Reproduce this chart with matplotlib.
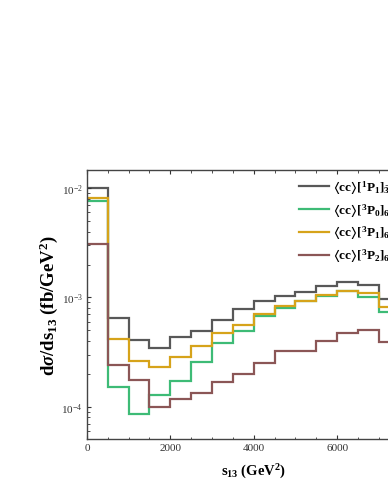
import numpy as np
import matplotlib
matplotlib.use("Agg")
import matplotlib.pyplot as plt
from matplotlib.ticker import LogLocator, MultipleLocator, FixedLocator

plt.rcParams['font.family'] = ['Liberation Serif', 'DejaVu Serif']
plt.rcParams['mathtext.fontset'] = 'custom'
plt.rcParams['mathtext.rm'] = 'Liberation Serif'
plt.rcParams['mathtext.it'] = 'Liberation Serif:italic'
plt.rcParams['mathtext.bf'] = 'Liberation Serif:bold'
plt.rcParams['mathtext.bfit'] = 'Liberation Serif:italic:bold'
plt.rcParams['mathtext.fallback'] = 'stix'

# bin edges in s13 (GeV^2), 500 wide
edges = np.arange(0, 7501, 500)

# d sigma / d s13 (fb/GeV^2)
p1_3bar = [1.0e-2, 6.5e-4, 4.1e-4, 3.46e-4, 4.33e-4, 4.98e-4, 6.23e-4, 7.85e-4,
           9.35e-4, 1.04e-3, 1.13e-3, 1.26e-3, 1.38e-3, 1.30e-3, 9.7e-4]
p0_6 = [7.7e-3, 1.51e-4, 8.6e-5, 1.29e-4, 1.72e-4, 2.56e-4, 3.84e-4, 4.98e-4,
        6.83e-4, 7.96e-4, 9.35e-4, 1.04e-3, 1.14e-3, 1.02e-3, 7.3e-4]
p1_6 = [8.2e-3, 4.18e-4, 2.65e-4, 2.33e-4, 2.88e-4, 3.58e-4, 4.71e-4, 5.65e-4,
        7.07e-4, 8.41e-4, 9.35e-4, 1.05e-3, 1.15e-3, 1.10e-3, 8.24e-4]
p2_6 = [3.08e-3, 2.43e-4, 1.74e-4, 9.9e-5, 1.18e-4, 1.34e-4, 1.68e-4, 1.99e-4,
        2.51e-4, 3.22e-4, 3.22e-4, 4.03e-4, 4.71e-4, 5.08e-4, 3.95e-4]

xticks = [0, 2000, 4000, 6000]

labels = [r'$\mathbf{\langle cc\rangle[^1P_1]_{\bar{3}}}$',
          r'$\mathbf{\langle cc\rangle[^3P_0]_6}$',
          r'$\mathbf{\langle cc\rangle[^3P_1]_6}$',
          r'$\mathbf{\langle cc\rangle[^3P_2]_6}$']
colors = ['#585858', '#3dbb76', '#d6a31a', '#8b5656']

fig = plt.figure(figsize=(3.88, 5.02), dpi=100)
# axes runs past the right edge of the figure, as in the cropped original
ax = fig.add_axes([0.224, 0.124, 0.86, 0.535])

for vals, lab, c in zip([p1_3bar, p0_6, p1_6, p2_6], labels, colors):
    ax.stairs(vals, edges, baseline=None, color=c, lw=1.6, label=lab)

ax.set_yscale('log')
ax.set_xlim(0, 8000)
ax.set_ylim(5.1e-5, 1.46e-2)
ax.xaxis.set_major_locator(FixedLocator(xticks))
ax.xaxis.set_minor_locator(MultipleLocator(500))
ax.yaxis.set_major_locator(LogLocator(base=10))
ax.yaxis.set_minor_locator(LogLocator(base=10, subs=np.arange(2, 10)))
ax.yaxis.set_minor_formatter(plt.NullFormatter())
ax.tick_params(which='both', direction='in', top=True, right=True,
               labelsize=8, colors='#333333', pad=3)
ax.tick_params(which='major', length=3, width=0.8)
ax.tick_params(which='minor', length=1.8, width=0.6)
for s in ax.spines.values():
    s.set_color('#444444')
    s.set_linewidth(1.0)

ax.set_xlabel(r'$\mathbf{s_{13}\ (GeV^2)}$', fontsize=10.5, labelpad=7)
ax.set_ylabel(r'$\mathbf{d}\boldsymbol{\sigma}\mathbf{/ds_{13}\ (fb/GeV^2)}$',
              fontsize=13.5, labelpad=1)

ax.legend(loc='upper left', bbox_to_anchor=(0.77, 0.643),
          bbox_transform=fig.transFigure, frameon=False, fontsize=9.5,
          handlelength=2.3, handletextpad=0.3, borderpad=0, borderaxespad=0,
          labelspacing=0.42)

fig.savefig('out.png', dpi=100)
